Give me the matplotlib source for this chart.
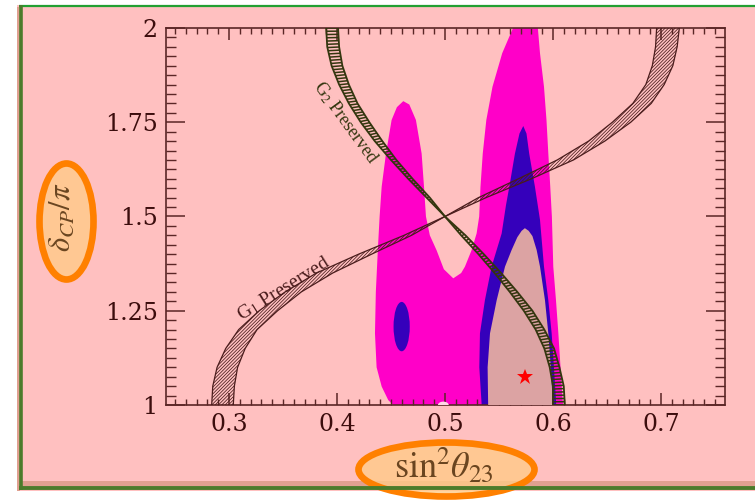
import numpy as np
import matplotlib
matplotlib.use("Agg")
import matplotlib.pyplot as plt
from matplotlib.patches import Polygon, Ellipse, Rectangle
from matplotlib.collections import LineCollection
from matplotlib.ticker import MultipleLocator, FixedLocator, FixedFormatter

plt.rcParams["mathtext.fontset"] = "stix"
plt.rcParams["font.family"] = ["Liberation Serif", "DejaVu Serif"]
plt.rcParams["hatch.linewidth"] = 0.55

# ---- data ----
x_ticks = [0.3, 0.4, 0.5, 0.6, 0.7]
x_tick_labels = ["0.3", "0.4", "0.5", "0.6", "0.7"]
y_ticks = [1.0, 1.25, 1.5, 1.75, 2.0]
y_tick_labels = ["1", "1.25", "1.5", "1.75", "2"]

# common delta grid for the two symmetry bands (top -> bottom)
band_y = [2.0, 1.95, 1.9, 1.85, 1.8, 1.75, 1.7, 1.65, 1.6, 1.55, 1.5,
          1.45, 1.4, 1.35, 1.3, 1.25, 1.2, 1.15, 1.1, 1.05, 1.0]
g1_outer = [0.717, 0.715, 0.711, 0.703, 0.691, 0.672, 0.648, 0.619, 0.580, 0.538, 0.500,
            0.462, 0.420, 0.381, 0.352, 0.328, 0.309, 0.297, 0.289, 0.285, 0.284]
g1_inner = [0.696, 0.695, 0.692, 0.686, 0.674, 0.655, 0.633, 0.604, 0.568, 0.531, 0.500,
            0.469, 0.432, 0.396, 0.367, 0.345, 0.326, 0.315, 0.308, 0.305, 0.304]
g2_outer = [0.390, 0.391, 0.395, 0.402, 0.411, 0.422, 0.435, 0.450, 0.466, 0.483, 0.500,
            0.519, 0.536, 0.552, 0.567, 0.581, 0.592, 0.601, 0.606, 0.610, 0.611]
g2_inner = [0.401, 0.402, 0.405, 0.411, 0.419, 0.430, 0.442, 0.455, 0.470, 0.486, 0.500,
            0.515, 0.531, 0.546, 0.560, 0.573, 0.584, 0.592, 0.597, 0.600, 0.600]

# 3 sigma region (magenta)
magenta_x = [0.452, 0.4475, 0.4414, 0.4367, 0.4352, 0.4360, 0.4380, 0.4395, 0.4414, 0.4454,
             0.4506, 0.4555, 0.4614, 0.4670, 0.4731, 0.4784, 0.4806, 0.4824, 0.4860, 0.4923,
             0.4990, 0.5077, 0.5150, 0.5185, 0.5247, 0.5293, 0.5317, 0.5329, 0.5350, 0.5383,
             0.5440, 0.5530, 0.5630, 0.5660, 0.5750, 0.5840, 0.5860, 0.5880, 0.5917, 0.5940,
             0.5957, 0.5975, 0.5990, 0.6003, 0.6028, 0.6050, 0.6070, 0.6090, 0.6095]
magenta_y = [1.0, 1.013, 1.049, 1.10, 1.19, 1.30, 1.42, 1.50, 1.579, 1.667,
             1.756, 1.790, 1.806, 1.797, 1.756, 1.667, 1.579, 1.50, 1.45, 1.41,
             1.36, 1.336, 1.35, 1.367, 1.411, 1.455, 1.50, 1.579, 1.667, 1.756,
             1.844, 1.933, 2.0, 2.05, 2.07, 2.05, 2.0, 1.933, 1.844, 1.756,
             1.667, 1.579, 1.50, 1.367, 1.278, 1.19, 1.10, 1.013, 1.0]
# 2 sigma region (blue)
blue_x = [0.534, 0.5318, 0.5324, 0.5370, 0.5432, 0.5525, 0.5565, 0.5596, 0.5648, 0.5690,
          0.5725, 0.5755, 0.5780, 0.5833, 0.5880, 0.5917, 0.5957, 0.5988, 0.6009, 0.6028, 0.6030]
blue_y = [1.0, 1.10, 1.19, 1.278, 1.367, 1.455, 1.53, 1.579, 1.667, 1.72,
          1.74, 1.72, 1.667, 1.579, 1.491, 1.367, 1.278, 1.19, 1.10, 1.013, 1.0]
# 1 sigma region (grey-pink)
grey_x = [0.540, 0.5395, 0.5417, 0.5479, 0.5556, 0.5617, 0.5670, 0.5710, 0.5740, 0.5775,
          0.5810, 0.5849, 0.5880, 0.5926, 0.5957, 0.5980, 0.5997, 0.6000]
grey_y = [1.0, 1.10, 1.19, 1.278, 1.367, 1.411, 1.445, 1.462, 1.469, 1.462,
          1.448, 1.411, 1.367, 1.278, 1.19, 1.10, 1.013, 1.0]

island_center = (0.4599, 1.208)
island_size = (0.0150, 0.131)
gap_center = (0.4985, 1.0)
gap_size = (0.010, 0.018)
best_fit = (0.574, 1.073)

g1_label_pos = (0.351, 1.310)
g2_label_pos = (0.408, 1.749)

# ---- colours ----
pink = "#ffc0c0"
magenta = "#ff00c8"
blue = "#3500bb"
grey = "#dca3a3"
g1_col = "#4a1c1c"
g2_col = "#34360f"
axis_col = "#5a2626"
tick_txt = "#3c0d0d"
label_col = "#6a4520"
orange = "#ff8000"
orange_fill = "#ffcb88"
green = "#4b7b2b"

fig = plt.figure(figsize=(7.55, 5.01), dpi=100)
fig.patch.set_facecolor("white")

# decoration layer in pixel coordinates
bg = fig.add_axes([0, 0, 1, 1])
bg.set_xlim(0, 755)
bg.set_ylim(501, 0)
bg.axis("off")
bg.add_patch(Rectangle((17, 5), 760, 486, facecolor=pink, edgecolor="none"))
bg.add_patch(Rectangle((17, 7), 2.5, 484, facecolor="#e0a090", edgecolor="none"))
bg.add_patch(Rectangle((22, 481), 760, 5, facecolor="#e0a090", edgecolor="none"))
bg.plot([19, 760], [6, 6], color="#22a032", lw=1.6, solid_capstyle="butt")
bg.plot([21, 21], [5, 490], color=green, lw=2.6, solid_capstyle="butt")
bg.plot([19, 760], [488, 488], color=green, lw=2.8, solid_capstyle="butt")
for cx, cy, w, h in [(66.5, 221.5, 54, 116), (446.5, 469.5, 176, 54)]:
    bg.add_patch(Ellipse((cx, cy), w, h, facecolor=orange_fill, edgecolor="none", alpha=0.8))
    bg.add_patch(Ellipse((cx, cy), w, h, facecolor="none", edgecolor=orange, lw=4.8))

ax = fig.add_axes([166 / 755, 96 / 501, 559 / 755, 377 / 501])
ax.set_facecolor(pink)
ax.set_xlim(0.2417, 0.7593)
ax.set_ylim(1.0, 2.0)

ax.add_patch(Polygon(np.column_stack([magenta_x, magenta_y]), closed=True,
                     facecolor=magenta, edgecolor="none", zorder=1))
ax.add_patch(Polygon(np.column_stack([blue_x, blue_y]), closed=True,
                     facecolor=blue, edgecolor="none", zorder=2))
ax.add_patch(Polygon(np.column_stack([grey_x, grey_y]), closed=True,
                     facecolor=grey, edgecolor="none", zorder=3))
ax.add_patch(Ellipse(island_center, *island_size, facecolor=blue, edgecolor="none", zorder=3))
ax.add_patch(Ellipse(gap_center, *gap_size, facecolor="#ffd6e6", edgecolor="none", zorder=3))

# G1 band: diagonal hatching
ax.fill_betweenx(band_y, g1_outer, g1_inner, facecolor="none", edgecolor=g1_col,
                 hatch="/" * 10, linewidth=0, zorder=4)
ax.plot(g1_outer, band_y, color=g1_col, lw=0.9, zorder=5)
ax.plot(g1_inner, band_y, color=g1_col, lw=0.9, zorder=5)


# G2 band: ladder-like rungs across the band
def resample(xs, ys, n):
    pts = ax.transData.transform(np.column_stack([xs, ys]))
    seg = np.hypot(*np.diff(pts, axis=0).T)
    s = np.concatenate([[0], np.cumsum(seg)])
    t = np.linspace(0, s[-1], n)
    out = np.column_stack([np.interp(t, s, pts[:, 0]), np.interp(t, s, pts[:, 1])])
    return ax.transData.inverted().transform(out), s[-1]


rungs = []
for sl in (slice(0, 11), slice(10, 21)):
    yy = band_y[sl]
    _, length = resample(g2_outer[sl], yy, 2)
    n = int(length / 3.2)
    a, _ = resample(g2_outer[sl], yy, n)
    b, _ = resample(g2_inner[sl], yy, n)
    rungs.extend(np.stack([a, b], axis=1))
ax.add_collection(LineCollection(rungs, colors=g2_col, linewidths=1.1, zorder=5))
ax.plot(g2_outer, band_y, color=g2_col, lw=1.3, zorder=5)
ax.plot(g2_inner, band_y, color=g2_col, lw=1.3, zorder=5)

ax.plot(*best_fit, marker="*", color="red", markersize=12, markeredgewidth=0, zorder=6)

ax.text(*g1_label_pos, r"G$_1$ Preserved", rotation=32, rotation_mode="anchor",
        ha="center", va="center", fontsize=14, color=g1_col, zorder=6)
ax.text(*g2_label_pos, r"G$_2$ Preserved", rotation=-54, rotation_mode="anchor",
        ha="center", va="center", fontsize=13, color=g2_col, zorder=6)

# axes styling
for sp in ax.spines.values():
    sp.set_color(axis_col)
    sp.set_linewidth(1.2)
ax.xaxis.set_major_locator(FixedLocator(x_ticks))
ax.xaxis.set_major_formatter(FixedFormatter(x_tick_labels))
ax.xaxis.set_minor_locator(MultipleLocator(0.01))
ax.yaxis.set_major_locator(FixedLocator(y_ticks))
ax.yaxis.set_major_formatter(FixedFormatter(y_tick_labels))
ax.yaxis.set_minor_locator(MultipleLocator(0.025))
ax.tick_params(which="both", direction="in", top=True, right=True, color=axis_col,
               labelcolor=tick_txt, labelsize=17)
ax.tick_params(axis="x", which="major", length=8.5, width=1.1, pad=6)
ax.tick_params(axis="x", which="minor", length=4.5, width=1.0)
ax.tick_params(axis="y", which="major", length=14, width=1.1, pad=6)
ax.tick_params(axis="y", which="minor", length=7.5, width=1.0)
for lab in ax.get_xticklabels() + ax.get_yticklabels():
    lab.set_family("DejaVu Serif")

ax.set_xlabel(r"$\mathrm{sin}^2\theta_{23}$", fontsize=26, color=label_col)
ax.set_ylabel(r"$\delta_{CP}/\pi$", fontsize=22, color=label_col)
ax.xaxis.set_label_coords(0.497, -0.163)
ax.yaxis.set_label_coords(-0.186, 0.499)
ax.xaxis.label.set_va("center")
ax.yaxis.label.set_va("center")

fig.savefig("out.png", dpi=100)
